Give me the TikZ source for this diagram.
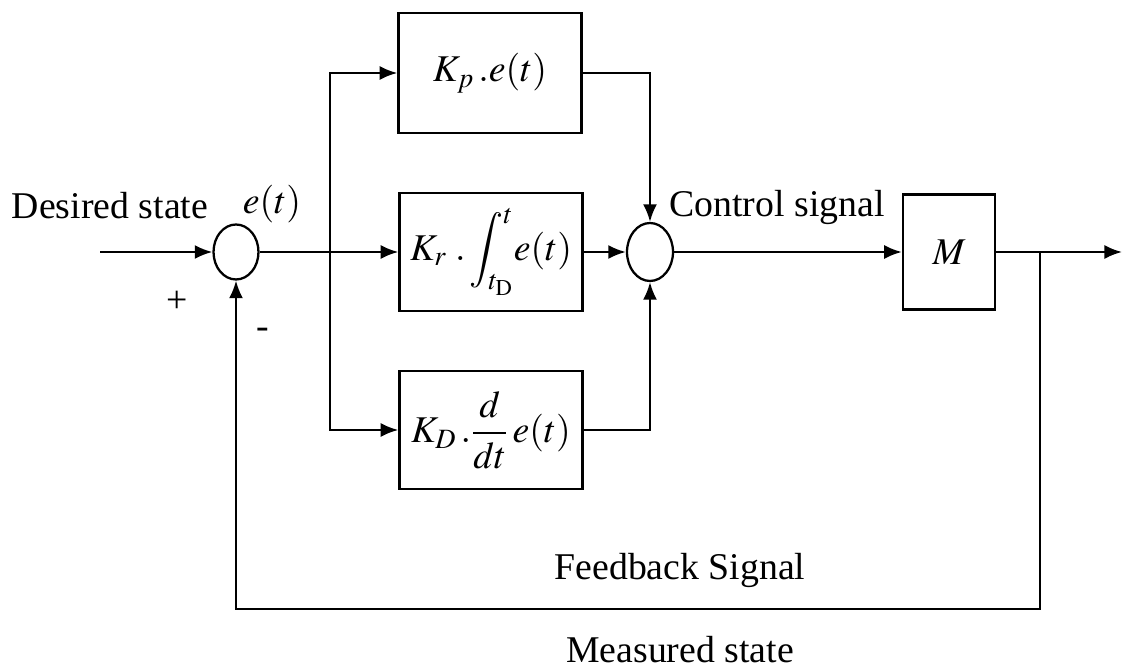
\documentclass[tikz,border=0pt]{standalone}
\usepackage{mathptmx}
\usepackage{fontspec}
\setmainfont{Liberation Serif}
\usetikzlibrary{shapes.geometric,arrows.meta}
\begin{document}
\begin{tikzpicture}[x=0.02cm,y=-0.02cm,
  every node/.style={font=\fontsize{21.5}{26}\selectfont},
  block/.style={draw,line width=1.4pt,inner sep=0pt,minimum width=3.66cm,minimum height=2.36cm},
  sum/.style={draw,ellipse,line width=1.3pt,inner sep=0pt,minimum width=0.9cm,minimum height=1.1cm},
  ln/.style={line width=1.3pt},
  arr/.style={ln,-{Latex[length=10pt,width=8pt]}},
  lbl/.style={inner sep=0pt}]
\useasboundingbox (0,0) rectangle (1127,671);
% nodes
\node[sum] (s1) at (236,252) {};
\node[sum,minimum width=0.92cm,minimum height=1.16cm] (s2) at (650,252) {};
\node[block,minimum height=2.4cm] (kp) at (490,73) {$K_p\,.e(t)$};
\node[block] (kr) at (491,252) {$K_r\;.\displaystyle\int_{t_{\mathrm{D}}}^{t}\!e(t)$};
\node[block] (kd) at (491,430) {$K_D\,.\displaystyle\frac{d}{dt}\,e(t)$};
\node[block,minimum width=1.84cm,minimum height=2.3cm] (m) at (949,252) {$M$};
\coordinate (in) at (100,252);
\coordinate (out) at (1122,252);
\coordinate (br) at (330,252);
\coordinate (fb) at (1040,252);
\coordinate (fbc) at (1040,609);
% labels
\node[lbl] (t1) at (110,206) {Desired state};
\node[lbl] (t2) at (272,204) {$e(t)$};
\node[lbl] (t3) at (777,207) {Control signal};
\node[lbl] (t4) at (680,570) {Feedback Signal};
\node[lbl] (t5) at (680,650) {Measured state};
\node[lbl] (plus) at (177,302) {+};
\node[lbl] (minus) at (263,333) {-};
% connectors
\draw[arr] (in) -- (s1.west);
\draw[arr] (s1.east) -- (kr.west);
\draw[arr] (br) |- (kp.west);
\draw[arr] (br) |- (kd.west);
\draw[arr] (kp.east) -| (s2.north);
\draw[arr] (kd.east) -| (s2.south);
\draw[arr] (kr.east) -- (s2.west);
\draw[arr] (s2.east) -- (m.west);
\draw[arr] (m.east) -- (out);
\draw[arr] (fb) -- (fbc) -| (s1.south);
\end{tikzpicture}
\end{document}
